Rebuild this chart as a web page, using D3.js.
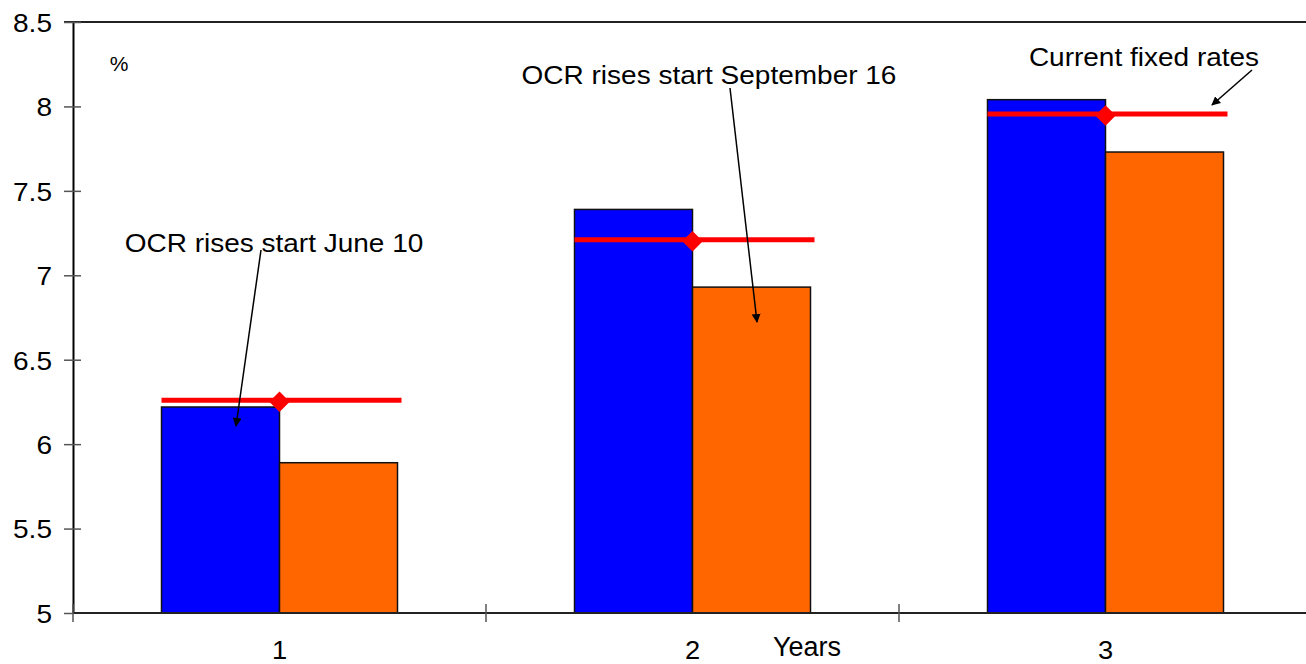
<!DOCTYPE html>
<html>
<head>
<meta charset="utf-8">
<script src="https://cdn.jsdelivr.net/npm/d3@7"></script>
<style>
  body { margin: 0; background: #fff; }
  svg { display: block; font-family: "Liberation Sans", Arial, sans-serif; }
</style>
</head>
<body>
<svg id="chart" width="1306" height="664"></svg>
<script>
// data
const years = ['1', '2', '3']
const series = ['A', 'B']
const blueValues = [6.22, 7.39, 8.04]
const orangeValues = [5.89, 6.93, 7.73]
const currentFixed = [6.26, 7.21, 7.955]
const yTicks = [5, 5.5, 6, 6.5, 7, 7.5, 8, 8.5]

const width = 1306
const height = 664
const plotLeft = 73
const plotTop = 22
const plotBottom = 613
const plotRight = 1312

const svg = d3.select('#chart')

const x = d3.scaleBand()
  .domain(years)
  .range([plotLeft, plotRight])

const sub = d3.scaleBand()
  .domain(series)
  .range([0, 236])

const groupOffset = (x.bandwidth() - 236) / 2

const y = d3.scaleLinear()
  .domain([5, 8.5])
  .range([plotBottom, plotTop])

const colors = {A: '#0000ff', B: '#ff6600'}

const rows = years.map((yr, i) => ({
  year: yr,
  bars: [
    {key: 'A', value: blueValues[i]},
    {key: 'B', value: orangeValues[i]}
  ],
  rate: currentFixed[i]
}))

// frame top line
svg.append('line')
  .attr('x1', plotLeft - 9).attr('x2', width)
  .attr('y1', plotTop).attr('y2', plotTop)
  .attr('stroke', '#222').attr('stroke-width', 2)

// bars
const group = svg.selectAll('g.year')
  .data(rows)
  .enter()
  .append('g')
  .attr('class', 'year')
  .attr('transform', d => 'translate(' + (x(d.year) + groupOffset) + ',0)')

group.selectAll('rect')
  .data(d => d.bars)
  .enter()
  .append('rect')
  .attr('x', d => sub(d.key))
  .attr('y', d => y(d.value))
  .attr('width', sub.bandwidth())
  .attr('height', d => y(5) - y(d.value))
  .attr('fill', d => colors[d.key])
  .attr('stroke', '#111')
  .attr('stroke-width', 1.5)

// current fixed rates line + marker
group.append('line')
  .attr('x1', 0)
  .attr('x2', 240)
  .attr('y1', d => y(d.rate))
  .attr('y2', d => y(d.rate))
  .attr('stroke', '#ff0000')
  .attr('stroke-width', 5)

group.append('path')
  .attr('d', d3.symbol(d3.symbolSquare, 210))
  .attr('transform', d => 'translate(' + sub('B') + ',' + (y(d.rate) + 1.5) + ') rotate(45)')
  .attr('fill', '#ff0000')

// y axis
const yAxis = d3.axisLeft(y)
  .tickValues(yTicks)
  .tickSize(0)
  .tickPadding(0)
  .tickFormat(d3.format('~g'))

const yg = svg.append('g')
  .attr('transform', 'translate(' + plotLeft + ',0)')
  .call(yAxis)
yg.select('.domain').attr('stroke', '#000').attr('stroke-width', 2)
yg.selectAll('.tick text').remove()
yg.selectAll('.tick').append('line')
  .attr('x1', -9).attr('x2', d => d === 5 ? 0 : 8)
  .attr('stroke', '#555').attr('stroke-width', 1.5)
yg.selectAll('.tick').append('text')
  .attr('transform', 'translate(-21,0) scale(1.08,1)')
  .attr('dy', '0.36em')
  .attr('text-anchor', 'end')
  .attr('fill', '#000')
  .style('font-size', '26px')
  .text(d => d3.format('~g')(d))

// x axis
svg.append('line')
  .attr('x1', plotLeft).attr('x2', width)
  .attr('y1', plotBottom).attr('y2', plotBottom)
  .attr('stroke', '#222').attr('stroke-width', 2)

svg.selectAll('line.xtick')
  .data(years)
  .enter()
  .append('line')
  .attr('class', 'xtick')
  .attr('x1', d => x(d)).attr('x2', d => x(d))
  .attr('y1', plotBottom - 9).attr('y2', plotBottom + 9)
  .attr('stroke', '#555').attr('stroke-width', 1.5)

svg.selectAll('text.xlabel')
  .data(years)
  .enter()
  .append('text')
  .attr('class', 'xlabel')
  .attr('transform', d => 'translate(' + (x(d) + x.bandwidth() / 2) + ',' + 659 + ') scale(1.05,1)')
  .attr('text-anchor', 'middle')
  .style('font-size', '26px')
  .text(d => d)

svg.append('text')
  .attr('x', 807).attr('y', 656)
  .attr('text-anchor', 'middle')
  .style('font-size', '27px')
  .text('Years')

svg.append('text')
  .attr('x', 119).attr('y', 71)
  .attr('text-anchor', 'middle')
  .style('font-size', '21px')
  .text('%')

// annotations
svg.append('defs').append('marker')
  .attr('id', 'arrow')
  .attr('viewBox', '0 0 10 10')
  .attr('refX', 9).attr('refY', 5)
  .attr('markerWidth', 9).attr('markerHeight', 9)
  .attr('markerUnits', 'userSpaceOnUse')
  .attr('orient', 'auto')
  .append('path')
  .attr('d', 'M0,0 L10,5 L0,10 Z')
  .attr('fill', '#000')

const notes = [
  {text: 'OCR rises start June 10', tx: 274, ty: 252, from: [261, 250], to: [236, 426]},
  {text: 'OCR rises start September 16', tx: 709, ty: 84, from: [730, 88], to: [757, 322]},
  {text: 'Current fixed rates', tx: 1144, ty: 66, from: [1252, 70], to: [1212, 105]}
]

svg.selectAll('line.note')
  .data(notes)
  .enter()
  .append('line')
  .attr('class', 'note')
  .attr('x1', d => d.from[0]).attr('y1', d => d.from[1])
  .attr('x2', d => d.to[0]).attr('y2', d => d.to[1])
  .attr('stroke', '#000').attr('stroke-width', 1.5)
  .attr('marker-end', 'url(#arrow)')

svg.selectAll('text.note')
  .data(notes)
  .enter()
  .append('text')
  .attr('class', 'note')
  .attr('transform', d => 'translate(' + d.tx + ',' + d.ty + ') scale(1.12,1)')
  .attr('text-anchor', 'middle')
  .style('font-size', '25px')
  .text(d => d.text)
</script>
</body>
</html>
